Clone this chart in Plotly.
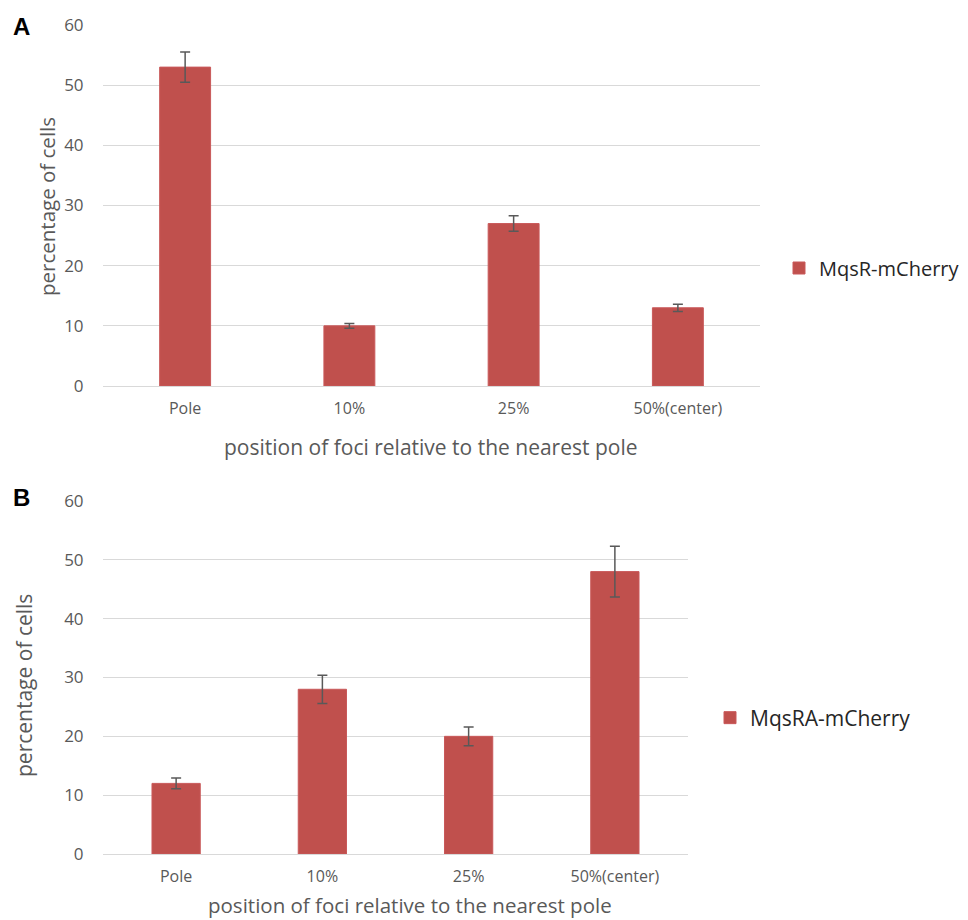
import plotly.graph_objects as go

categories = ["Pole", "10%", "25%", "50%(center)"]

# Panel A: MqsR-mCherry
mqsr_values = [53, 10, 27, 13]
mqsr_errors = [2.5, 0.4, 1.3, 0.6]

# Panel B: MqsRA-mCherry
mqsra_values = [12, 28, 20, 48]
mqsra_errors = [0.9, 2.4, 1.6, 4.3]

y_ticks = [0, 10, 20, 30, 40, 50, 60]

BAR = "#C0504D"
EDGE = "#C9595A"
GRID = "#D9D9D9"
TICK = "#595959"
FONT = "Open Sans"

W, H = 968, 920


def px_x(p):
    return p / W


def px_y(p):
    return 1 - p / H


fig = go.Figure()

fig.add_trace(go.Bar(
    x=categories, y=mqsr_values, name="MqsR-mCherry",
    marker=dict(color=BAR, line=dict(color=EDGE, width=1)),
    width=0.31, showlegend=True,
    error_y=dict(type="data", array=mqsr_errors, color="#595959", thickness=1.5, width=5),
    xaxis="x", yaxis="y", legend="legend",
))

fig.add_trace(go.Bar(
    x=categories, y=mqsra_values, name="MqsRA-mCherry",
    marker=dict(color=BAR, line=dict(color=EDGE, width=1)),
    width=0.33, showlegend=True,
    error_y=dict(type="data", array=mqsra_errors, color="#595959", thickness=1.5, width=5),
    xaxis="x2", yaxis="y2", legend="legend2",
))

xcommon = dict(
    showgrid=False, showline=False, zeroline=False, automargin=False,
    ticks="outside", ticklen=8, tickcolor="rgba(0,0,0,0)",
    tickfont=dict(family=FONT, size=16, color=TICK),
    fixedrange=True,
)
ycommon = dict(
    range=[0, 60], tickvals=y_ticks, automargin=False,
    showgrid=True, gridcolor=GRID, gridwidth=1.3,
    zeroline=True, zerolinecolor=GRID, zerolinewidth=1.3,
    showline=False,
    ticks="outside", ticklen=15, tickcolor="rgba(0,0,0,0)",
    tickfont=dict(family=FONT, size=17, color=TICK),
    fixedrange=True,
)

fig.update_layout(
    width=W, height=H,
    margin=dict(l=0, r=0, t=0, b=0, autoexpand=False),
    paper_bgcolor="white", plot_bgcolor="white",
    font=dict(family=FONT, color=TICK),
    xaxis=dict(domain=[px_x(103), px_x(760)], anchor="y", **xcommon),
    yaxis=dict(domain=[px_y(386), px_y(25)], anchor="x", **ycommon),
    xaxis2=dict(domain=[px_x(103), px_x(688)], anchor="y2", **xcommon),
    yaxis2=dict(domain=[px_y(854), px_y(501)], anchor="x2", **ycommon),
    legend=dict(
        x=px_x(779), y=px_y(268), xanchor="left", yanchor="middle",
        font=dict(family=FONT, size=20, color="#262626"),
        bgcolor="rgba(0,0,0,0)", itemwidth=30,
    ),
    legend2=dict(
        x=px_x(710), y=px_y(718), xanchor="left", yanchor="middle",
        font=dict(family=FONT, size=21, color="#262626"),
        bgcolor="rgba(0,0,0,0)", itemwidth=30,
    ),
)

annotations = [
    dict(text="<b>A</b>", x=px_x(21), y=px_y(27), font=dict(family="Liberation Sans", size=24, color="black")),
    dict(text="<b>B</b>", x=px_x(21), y=px_y(497), font=dict(family="Liberation Sans", size=24, color="black")),
    dict(text="percentage of cells", x=px_x(47), y=px_y(207), textangle=-90,
         font=dict(family=FONT, size=20.5, color=TICK)),
    dict(text="percentage of cells", x=px_x(24), y=px_y(686), textangle=-90,
         font=dict(family=FONT, size=21, color=TICK)),
    dict(text="position of foci relative to the nearest pole", x=px_x(431), y=px_y(447),
         font=dict(family=FONT, size=21, color=TICK)),
    dict(text="position of foci relative to the nearest pole", x=px_x(410), y=px_y(905),
         font=dict(family=FONT, size=20.5, color=TICK)),
]
for a in annotations:
    a.update(xref="paper", yref="paper", showarrow=False, xanchor="center", yanchor="middle")
fig.update_layout(annotations=annotations)

fig.write_html("out.html")
